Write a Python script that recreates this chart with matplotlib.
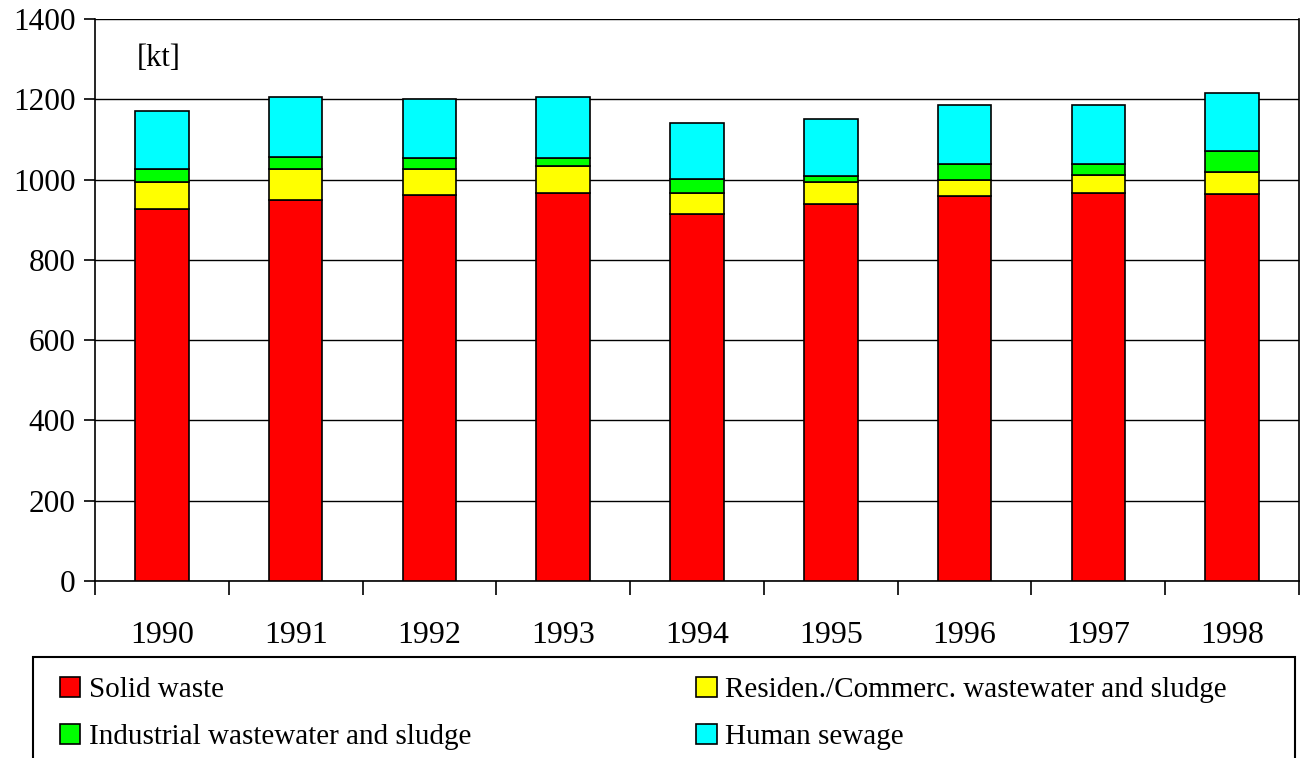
import numpy as np
import matplotlib.pyplot as plt
from matplotlib.patches import Rectangle

plt.rcParams["font.family"] = ["Liberation Serif", "DejaVu Serif"]

years = ["1990", "1991", "1992", "1993", "1994", "1995", "1996", "1997", "1998"]
solid_waste = [926, 949, 961, 966, 915, 940, 960, 966, 965]
residential = [69, 77, 65, 68, 51, 54, 40, 45, 55]
industrial = [31, 29, 28, 20, 35, 16, 39, 28, 50]
human_sewage = [144, 150, 146, 151, 139, 140, 146, 146, 145]

series = [
    ("Solid waste", solid_waste, "#ff0000"),
    ("Residen./Commerc. wastewater and sludge", residential, "#ffff00"),
    ("Industrial wastewater and sludge", industrial, "#00ff00"),
    ("Human sewage", human_sewage, "#00ffff"),
]

W, H = 1308, 758
fig = plt.figure(figsize=(W / 100, H / 100), dpi=100)
ax = fig.add_axes([95 / W, 1 - 581 / H, (1299 - 95) / W, (581 - 19) / H])

x = np.arange(len(years))
bottom = np.zeros(len(years))
handles = {}
for name, vals, color in series:
    vals = np.array(vals, dtype=float)
    b = ax.bar(x, vals, width=0.4, bottom=bottom, color=color,
               edgecolor="black", linewidth=1.2, zorder=3)
    handles[name] = b
    bottom += vals

ax.set_ylim(0, 1400)
ax.set_xlim(-0.5, len(years) - 0.5)
ax.set_yticks(np.arange(0, 1401, 200))
ax.yaxis.grid(True, color="black", linewidth=1.0, zorder=0)
ax.set_axisbelow(True)
ax.tick_params(axis="y", direction="out", length=8, width=1.2, labelsize=22.5, pad=6)

ax.set_xticks(x)
ax.set_xticklabels(years)
ax.set_xticks(np.arange(-0.5, len(years), 1), minor=True)
ax.tick_params(axis="x", which="major", length=0, labelsize=23, pad=29)
ax.tick_params(axis="x", which="minor", direction="out", length=10, width=1.2)

for s in ["left", "bottom", "top", "right"]:
    ax.spines[s].set_linewidth(1.2)
ax.spines["top"].set_visible(False)

ax.text(0.035, 0.93, "[kt]", transform=ax.transAxes, fontsize=22,
        va="center", ha="left")

# legend box (bottom runs off the figure)
fig.patches.append(Rectangle((33 / W, -0.05), (1295 - 33) / W, 0.05 + 1 - 657 / H,
                             transform=fig.transFigure, fill=False,
                             edgecolor="black", linewidth=1.5))
order = ["Solid waste", "Industrial wastewater and sludge",
         "Residen./Commerc. wastewater and sludge", "Human sewage"]
fig.legend([handles[n] for n in order], order, ncol=2, frameon=False,
           loc="upper left", bbox_to_anchor=(60 / W, 1 - 677 / H),
           fontsize=21, handlelength=0.7, handleheight=0.7, handletextpad=0.3,
           labelspacing=0.7, columnspacing=7.7, borderaxespad=0, borderpad=0)

fig.savefig("out.png", dpi=100)
